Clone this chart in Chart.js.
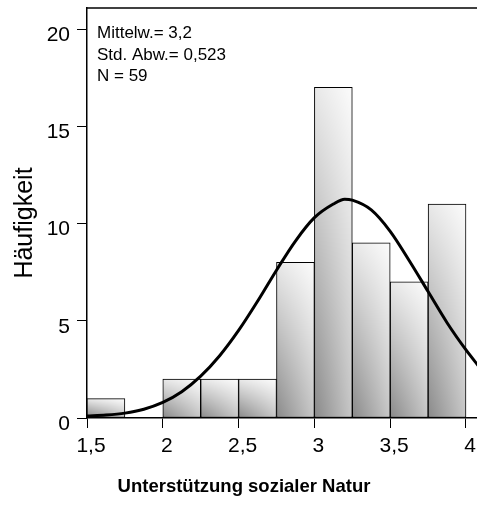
<!DOCTYPE html>
<html><head><meta charset="utf-8">
<script src="https://cdn.jsdelivr.net/npm/chart.js@4.4.1/dist/chart.umd.min.js"></script>
<style>html,body{margin:0;padding:0;background:#fff}canvas{display:block}</style>
</head><body>
<canvas id="c" width="477" height="506"></canvas>
<script>
// Histogram bins (centers) and frequencies
const binCenters = [1.625, 1.875, 2.125, 2.375, 2.625, 2.875, 3.125, 3.375, 3.625, 3.875];
const frequencies = [1, 0, 2, 2, 2, 8, 17, 9, 7, 11];
const binWidth = 0.25;
// Normal curve, values
const curveX = [1.5, 1.625, 1.75, 1.875, 2.0, 2.125, 2.25, 2.375, 2.5, 2.625, 2.75, 2.875, 3.0, 3.125, 3.2, 3.25, 3.375, 3.5, 3.625, 3.75, 3.875, 4.0, 4.08];
const curveY = [0.1, 0.15, 0.25, 0.45, 0.8, 1.35, 2.15, 3.2, 4.5, 6.0, 7.6, 9.1, 10.3, 11.0, 11.25, 11.2, 10.7, 9.6, 8.1, 6.5, 4.9, 3.5, 2.7];
const xTicks = [1.5, 2, 2.5, 3, 3.5, 4];
const yTicks = [0, 5, 10, 15, 20];
const statsLines = ['Mittelw.= 3,2', 'Std. Abw.= 0,523', 'N = 59'];
const xTitle = 'Unterstützung sozialer Natur';
const yTitle = 'Häufigkeit';

const FONT = '"Liberation Sans", Arial, sans-serif';
const fmt = v => String(v).replace('.', ',');

const barData = binCenters.map((x, i) => ({x, y: frequencies[i]}));
const lineData = curveX.map((x, i) => ({x, y: curveY[i]}));

// shading corners (top-left, top-right, bottom-left, bottom-right) grey levels
const SHADE = {tl: 232, tr: 251, bl: 138, br: 198};
const patternCache = {};
function barPattern(chartCtx, x0, yTop, w, h) {
  w = Math.max(1, Math.round(w)); h = Math.max(1, Math.round(h));
  const key = w + 'x' + h;
  let cv = patternCache[key];
  if (!cv) {
    cv = document.createElement('canvas');
    cv.width = w; cv.height = h;
    const c = cv.getContext('2d');
    const img = c.createImageData(w, h);
    for (let j = 0; j < h; j++) {
      const v = h > 1 ? j / (h - 1) : 0;
      for (let i = 0; i < w; i++) {
        const u = w > 1 ? i / (w - 1) : 0;
        const g = (SHADE.tl * (1 - u) + SHADE.tr * u) * (1 - v) + (SHADE.bl * (1 - u) + SHADE.br * u) * v;
        const k = (j * w + i) * 4;
        img.data[k] = img.data[k + 1] = img.data[k + 2] = Math.round(g);
        img.data[k + 3] = 255;
      }
    }
    c.putImageData(img, 0, 0);
    patternCache[key] = cv;
  }
  const p = chartCtx.createPattern(cv, 'no-repeat');
  p.setTransform(new DOMMatrix().translate(x0, yTop));
  return p;
}

const textPlugin = {
  id: 'texts',
  afterDraw(chart) {
    const {ctx, chartArea} = chart;
    ctx.save();
    ctx.strokeStyle = '#000'; ctx.lineWidth = 1.5;
    ctx.beginPath(); ctx.moveTo(chartArea.left, chartArea.top); ctx.lineTo(chartArea.right, chartArea.top); ctx.stroke();
    ctx.fillStyle = '#000';
    ctx.font = '17px ' + FONT;
    ctx.textAlign = 'left'; ctx.textBaseline = 'alphabetic';
    statsLines.forEach((t, i) => ctx.fillText(t, chartArea.left + 10, 38 + i * 21.5));
    ctx.font = 'bold 18.5px ' + FONT;
    ctx.textAlign = 'center'; ctx.textBaseline = 'middle';
    ctx.fillText(xTitle, 244, 487);
    ctx.translate(25, 223); ctx.rotate(-Math.PI / 2);
    ctx.font = '25px ' + FONT;
    ctx.fillText(yTitle, 0, 0);
    ctx.restore();
  }
};

new Chart(document.getElementById('c'), {
  type: 'bar',
  data: {
    datasets: [
      {
        type: 'line', data: lineData, order: 0,
        borderColor: '#000', borderWidth: 3, pointRadius: 0,
        fill: false, cubicInterpolationMode: 'monotone'
      },
      {
        type: 'bar', data: barData, order: 1,
        barPercentage: 1, categoryPercentage: 1,
        borderColor: '#000', borderWidth: 1, borderSkipped: false,
        backgroundColor(ctx) {
          const chart = ctx.chart;
          const sx = chart.scales.x, sy = chart.scales.y;
          if (!sx || !sy || ctx.raw === undefined || !chart.chartArea) return '#ccc';
          const x0 = sx.getPixelForValue(ctx.raw.x - binWidth / 2);
          const x1 = sx.getPixelForValue(ctx.raw.x + binWidth / 2);
          const yb = sy.getPixelForValue(0);
          const yt = sy.getPixelForValue(ctx.raw.y);
          return barPattern(chart.ctx, x0, yt, x1 - x0, Math.max(1, yb - yt));
        }
      }
    ]
  },
  options: {
    responsive: false,
    animation: false,
    events: [],
    layout: {padding: {top: 8, right: 0, left: 0, bottom: 0}},
    plugins: {legend: {display: false}, tooltip: {enabled: false}},
    scales: {
      x: {
        type: 'linear', min: 1.5, max: 4.0726, offset: false,
        afterBuildTicks(s) { s.ticks = xTicks.map(v => ({value: v})); },
        afterFit(s) { s.height = 88; s.paddingLeft = 0; s.paddingRight = 0; },
        ticks: {color: '#000', font: {family: FONT, size: 21}, padding: 6, labelOffset: 4, maxRotation: 0, callback: v => fmt(v)},
        grid: {display: true, drawOnChartArea: false, drawTicks: true, tickLength: 10, color: '#000', offset: false},
        border: {display: true, color: '#000', width: 1.5}
      },
      y: {
        type: 'linear', min: 0, max: 21.08,
        afterBuildTicks(s) { s.ticks = yTicks.map(v => ({value: v})); },
        afterFit(s) { s.width = 87; s.paddingTop = 0; s.paddingBottom = 0; },
        ticks: {color: '#000', font: {family: FONT, size: 21}, padding: 7, labelOffset: 6, callback: v => fmt(v)},
        grid: {display: true, drawOnChartArea: false, drawTicks: true, tickLength: 10, color: '#000'},
        border: {display: true, color: '#000', width: 1.5}
      }
    }
  },
  plugins: [textPlugin]
});
</script>
</body></html>
